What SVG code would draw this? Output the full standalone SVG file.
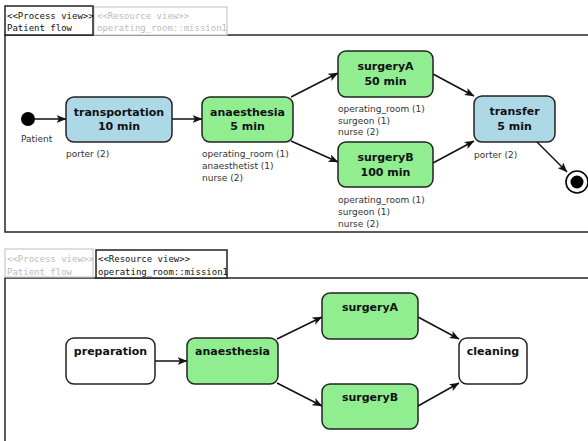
<svg xmlns="http://www.w3.org/2000/svg" width="588" height="441" viewBox="0 0 588 441">
<defs>
<style>
.frame{fill:#fff;stroke:#333;stroke-width:1.6}
.tabOn{fill:#fff;stroke:#222;stroke-width:1.5}
.tabOff{fill:#fff;stroke:#c8c8c8;stroke-width:1.2}
.tt{font-family:"DejaVu Sans Mono","Liberation Mono",monospace;font-size:9px;fill:#111}
.ttOff{font-family:"DejaVu Sans Mono","Liberation Mono",monospace;font-size:9px;fill:#bbb}
.box{stroke:#222;stroke-width:1.5}
.blue{fill:#add8e6}
.green{fill:#90ee90}
.white{fill:#fff}
.lbl{font-family:"DejaVu Sans","Liberation Sans",sans-serif;font-size:11px;font-weight:bold;fill:#111;text-anchor:middle}
.res{font-family:"DejaVu Sans","Liberation Sans",sans-serif;font-size:9px;fill:#333}
.edge{stroke:#111;stroke-width:1.5;fill:none;marker-end:url(#arr)}
</style>
<marker id="arr" viewBox="0 0 10 8" refX="9.5" refY="4" markerWidth="10" markerHeight="8" markerUnits="userSpaceOnUse" orient="auto">
<path d="M0,0 L10,4 L0,8 L2.5,4 z" fill="#111"/>
</marker>
</defs>
<rect width="588" height="441" fill="#fff"/>

<!-- top panel -->
<g id="top-panel">
<rect class="frame" x="5" y="35" width="600" height="197"/>
<rect class="tabOff" x="94" y="7" width="133" height="28"/>
<text class="ttOff" x="97" y="19">&lt;&lt;Resource view&gt;&gt;</text>
<text class="ttOff" x="97" y="31">operating_room::mission1</text>
<rect class="tabOn" x="5" y="6" width="88" height="29"/>
<text class="tt" x="7" y="19">&lt;&lt;Process view&gt;&gt;</text>
<text class="tt" x="7" y="31">Patient flow</text>
</g>

<!-- bottom panel -->
<g id="bottom-panel">
<rect class="frame" x="5" y="278" width="600" height="180"/>
<rect class="tabOff" x="5" y="249" width="88" height="28"/>
<text class="ttOff" x="7" y="262">&lt;&lt;Process view&gt;&gt;</text>
<text class="ttOff" x="7" y="275">Patient flow</text>
<rect class="tabOn" x="96" y="250" width="131" height="28"/>
<text class="tt" x="98" y="262">&lt;&lt;Resource view&gt;&gt;</text>
<text class="tt" x="98" y="275">operating_room::mission1</text>
</g>

<g id="connectors">
<line class="edge" x1="35" y1="119" x2="66" y2="119"/>
<line class="edge" x1="172" y1="119" x2="202" y2="119"/>
<line class="edge" x1="291" y1="97" x2="338" y2="73"/>
<line class="edge" x1="291" y1="141" x2="338" y2="162"/>
<line class="edge" x1="433" y1="74" x2="474" y2="96"/>
<line class="edge" x1="433" y1="163" x2="474" y2="141"/>
<line class="edge" x1="537" y1="142" x2="567" y2="172"/>
<line class="edge" x1="155" y1="361" x2="187" y2="361"/>
<line class="edge" x1="277" y1="339" x2="322" y2="317"/>
<line class="edge" x1="277" y1="383" x2="322" y2="406"/>
<line class="edge" x1="418" y1="317" x2="459" y2="339"/>
<line class="edge" x1="418" y1="406" x2="459" y2="383"/>
</g>

<g id="start">
<circle cx="28" cy="119" r="7" fill="#000"/>
<text class="res" x="21" y="142">Patient</text>
</g>
<g id="transportation">
<rect class="box blue" x="66" y="97" width="106" height="45" rx="8"/>
<text class="lbl" x="119" y="116">transportation</text>
<text class="lbl" x="119" y="130">10 min</text>
<text class="res" x="66" y="157">porter (2)</text>
</g>
<g id="anaesthesia">
<rect class="box green" x="202" y="97" width="91" height="45" rx="8"/>
<text class="lbl" x="247.5" y="116">anaesthesia</text>
<text class="lbl" x="247.5" y="130">5 min</text>
<text class="res" x="202" y="157">operating_room (1)</text>
<text class="res" x="202" y="169">anaesthetist (1)</text>
<text class="res" x="202" y="181">nurse (2)</text>
</g>
<g id="surgeryA">
<rect class="box green" x="338" y="51" width="95" height="46" rx="8"/>
<text class="lbl" x="385.5" y="70">surgeryA</text>
<text class="lbl" x="385.5" y="85">50 min</text>
<text class="res" x="338" y="112">operating_room (1)</text>
<text class="res" x="338" y="123.5">surgeon (1)</text>
<text class="res" x="338" y="135">nurse (2)</text>
</g>
<g id="surgeryB">
<rect class="box green" x="338" y="142" width="95" height="45" rx="8"/>
<text class="lbl" x="385.5" y="161">surgeryB</text>
<text class="lbl" x="385.5" y="176">100 min</text>
<text class="res" x="338" y="202.5">operating_room (1)</text>
<text class="res" x="338" y="214.5">surgeon (1)</text>
<text class="res" x="338" y="226.5">nurse (2)</text>
</g>
<g id="transfer">
<rect class="box blue" x="474" y="96" width="81" height="46" rx="8"/>
<text class="lbl" x="514.5" y="115">transfer</text>
<text class="lbl" x="514.5" y="130">5 min</text>
<text class="res" x="474" y="157.5">porter (2)</text>
</g>
<g id="end">
<circle cx="577" cy="182" r="11" fill="#fff" stroke="#000" stroke-width="1.6"/>
<circle cx="577" cy="182" r="6.5" fill="#000"/>
</g>

<g id="preparation">
<rect class="box white" x="66" y="338" width="89" height="46" rx="8"/>
<text class="lbl" x="110.5" y="355">preparation</text>
</g>
<g id="anaesthesia2">
<rect class="box green" x="187" y="338" width="91" height="46" rx="8"/>
<text class="lbl" x="232.5" y="355">anaesthesia</text>
</g>
<g id="surgeryA2">
<rect class="box green" x="322" y="293" width="96" height="46" rx="8"/>
<text class="lbl" x="370" y="311">surgeryA</text>
</g>
<g id="surgeryB2">
<rect class="box green" x="322" y="384" width="96" height="45" rx="8"/>
<text class="lbl" x="370" y="401">surgeryB</text>
</g>
<g id="cleaning">
<rect class="box white" x="459" y="338" width="68" height="46" rx="8"/>
<text class="lbl" x="493" y="355">cleaning</text>
</g>
</svg>
